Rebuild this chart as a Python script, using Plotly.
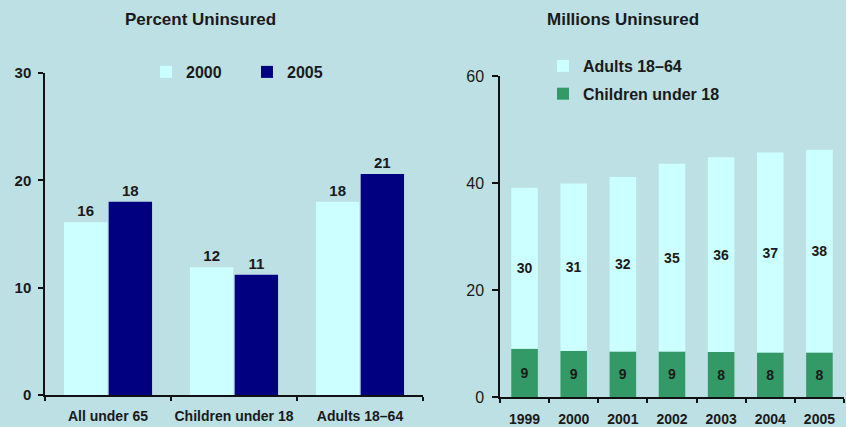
import plotly.graph_objects as go

# ---- data ----
groups = ["All under 65", "Children under 18", "Adults 18\u201364"]
pct_2000 = [16.1, 11.9, 18.0]
pct_2005 = [18.0, 11.2, 20.6]

years = ["1999", "2000", "2001", "2002", "2003", "2004", "2005"]
children_m = [9.0, 8.6, 8.5, 8.5, 8.4, 8.3, 8.3]
adults_m = [30.1, 31.3, 32.6, 35.1, 36.4, 37.4, 37.9]
children_lbl = ["9", "9", "9", "9", "8", "8", "8"]
adults_lbl = ["30", "31", "32", "35", "36", "37", "38"]
total_lbl = ["39", "40", "41", "43", "45", "45", "46"]

left_ticks = [0, 10, 20, 30]
right_ticks = [0, 20, 40, 60]

# ---- style ----
BG = "#BCE0E4"
LIGHT = "#CCFFFF"
NAVY = "#000080"
GREEN = "#339966"
TXT = "#1a1a1a"
FAM = "Liberation Sans, Arial, sans-serif"
W, H = 846, 427


def px_x(p):
    return p / W


def px_y(p):
    return (H - p) / H


fig = go.Figure()

# left grouped bars
fig.add_bar(x=groups, y=pct_2000, name="2000", marker=dict(color=LIGHT, line=dict(width=0)),
            texttemplate="%{y:.0f}", textposition="outside", cliponaxis=False,
            textfont=dict(family=FAM, size=15, color=TXT, weight="bold"),
            xaxis="x", yaxis="y", legend="legend")
fig.add_bar(x=groups, y=pct_2005, name="2005", marker=dict(color=NAVY, line=dict(width=0)),
            texttemplate="%{y:.0f}", textposition="outside", cliponaxis=False,
            textfont=dict(family=FAM, size=15, color=TXT, weight="bold"),
            xaxis="x", yaxis="y", legend="legend")

# right stacked bars (manual stacking via base)
fig.add_bar(x=years, y=children_m, name="Children under 18",
            marker=dict(color=GREEN, line=dict(width=0)),
            text=children_lbl, textposition="inside", insidetextanchor="middle", textangle=0,
            insidetextfont=dict(family=FAM, size=14, color=TXT, weight="bold"),
            width=0.54, offset=-0.27, offsetgroup="r",
            xaxis="x2", yaxis="y2", legend="legend2", legendgroup="c", legendrank=2)
fig.add_bar(x=years, y=adults_m, base=children_m, name="Adults 18\u201364",
            marker=dict(color=LIGHT, line=dict(width=0)),
            text=adults_lbl, textposition="inside", insidetextanchor="middle", textangle=0,
            insidetextfont=dict(family=FAM, size=14, color=TXT, weight="bold"),
            width=0.54, offset=-0.27, offsetgroup="r",
            xaxis="x2", yaxis="y2", legend="legend2", legendgroup="a", legendrank=1)

annotations = []
for yr, c, a, t in zip(years, children_m, adults_m, total_lbl):
    annotations.append(dict(x=yr, y=c + a, xref="x2", yref="y2", text=t, showarrow=False,
                            yanchor="bottom", yshift=18,
                            font=dict(family=FAM, size=14, color=TXT, weight="bold")))

annotations.append(dict(x=px_x(200), y=px_y(19), xref="paper", yref="paper",
                        text="Percent Uninsured", showarrow=False,
                        xanchor="center", yanchor="middle",
                        font=dict(family=FAM, size=17, color=TXT, weight="bold")))
annotations.append(dict(x=px_x(623), y=px_y(19), xref="paper", yref="paper",
                        text="Millions Uninsured", showarrow=False,
                        xanchor="center", yanchor="middle",
                        font=dict(family=FAM, size=17, color=TXT, weight="bold")))

axis_common = dict(showline=True, linecolor="#111", linewidth=1.5, showgrid=False,
                   zeroline=False, ticks="outside", tickcolor="#111", tickwidth=1.5,
                   automargin=False)

fig.update_layout(
    width=W, height=H, margin=dict(l=0, r=0, t=0, b=0, autoexpand=False),
    paper_bgcolor=BG, plot_bgcolor=BG,
    barmode="group", bargap=0.29, bargroupgap=0.03,
    showlegend=True,
    xaxis=dict(domain=[px_x(45), px_x(423)], anchor="y", type="category",
               range=[-0.5, 2.5], tickson="boundaries", ticklen=4, tickangle=0,
               ticklabelstandoff=7,
               tickfont=dict(family=FAM, size=14, color=TXT, weight="bold"), **axis_common),
    yaxis=dict(domain=[px_y(395), px_y(73)], anchor="x", range=[0, 30],
               tickvals=left_ticks, ticklen=5, ticklabelstandoff=4,
               tickfont=dict(family=FAM, size=15, color=TXT, weight="bold"), **axis_common),
    xaxis2=dict(domain=[px_x(500), px_x(844)], anchor="y2", type="category",
                range=[-0.5, 6.5], tickson="boundaries", ticklen=4, tickangle=0,
                ticklabelstandoff=8,
                tickfont=dict(family=FAM, size=14, color=TXT, weight="bold"), **axis_common),
    yaxis2=dict(domain=[px_y(397), px_y(76)], anchor="x2", range=[0, 60],
                tickvals=right_ticks, ticklen=6, ticklabelstandoff=5,
                tickfont=dict(family=FAM, size=16, color=TXT), **axis_common),
    legend=dict(orientation="h", x=px_x(146), y=px_y(72), xanchor="left", yanchor="middle",
                bgcolor="rgba(0,0,0,0)", borderwidth=0, entrywidth=56, entrywidthmode="pixels",
                font=dict(family=FAM, size=16, color=TXT, weight="bold")),
    legend2=dict(orientation="v", x=px_x(543), y=px_y(80), xanchor="left", yanchor="middle",
                 bgcolor="rgba(0,0,0,0)", borderwidth=0, traceorder="grouped",
                 tracegroupgap=4,
                 font=dict(family=FAM, size=16, color=TXT, weight="bold")),
    annotations=annotations,
)

fig.write_html("out.html")
